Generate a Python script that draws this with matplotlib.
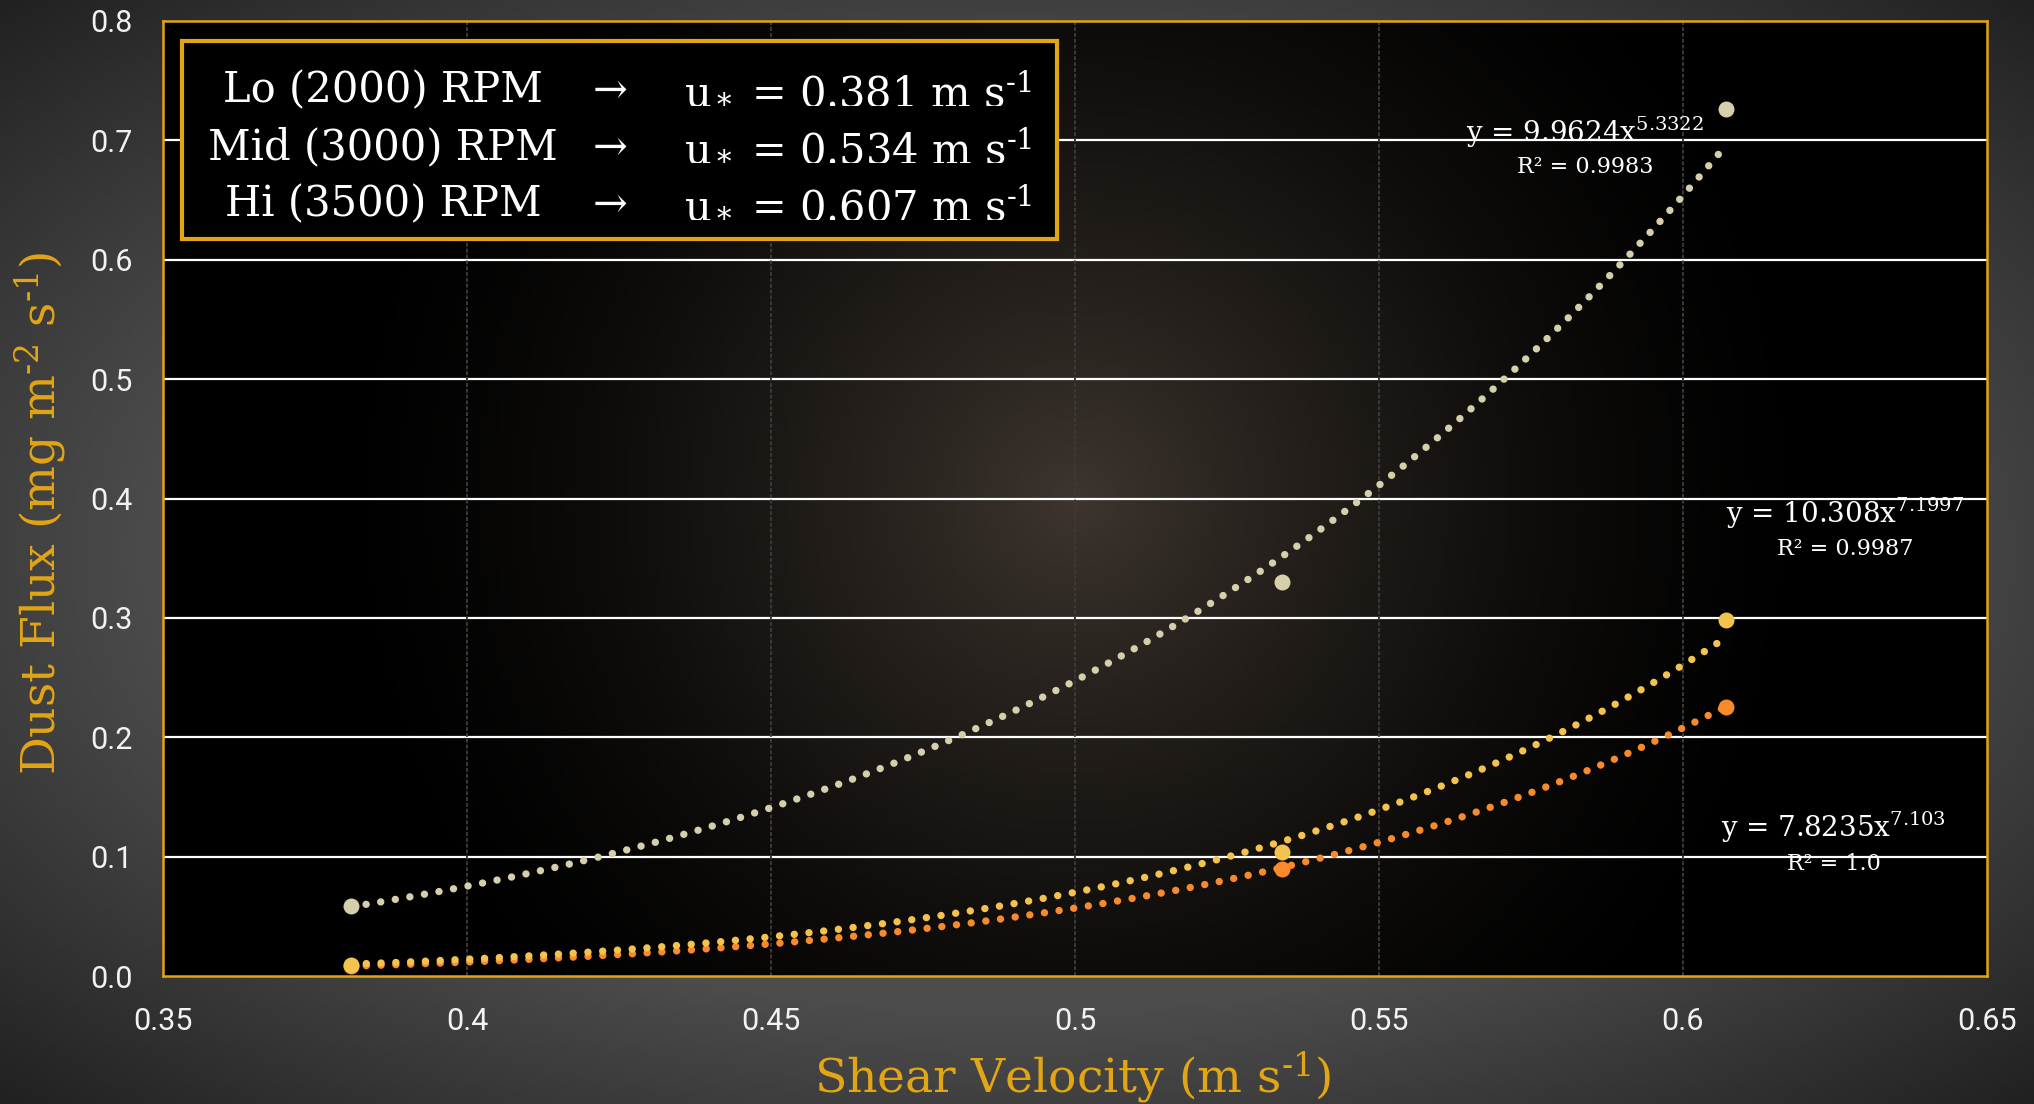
import numpy as np
import matplotlib
matplotlib.use("Agg")
import matplotlib.pyplot as plt
from matplotlib.patches import Rectangle

plt.rcParams['mathtext.fontset'] = 'custom'
plt.rcParams['mathtext.rm'] = 'DejaVu Serif'
plt.rcParams['mathtext.it'] = 'DejaVu Serif:italic'
plt.rcParams['mathtext.bf'] = 'DejaVu Serif:bold'

# Velocidade de cisalhamento para cada rotação e fluxo de poeira medido
u_star = [0.381, 0.534, 0.607]
rpm_labels = ['Lo (2000) RPM', 'Mid (3000) RPM', 'Hi (3500) RPM']
flux_bege = [0.059, 0.330, 0.726]
flux_amarelo = [0.009, 0.104, 0.298]
flux_laranja = [0.008, 0.090, 0.225]

# Ajustes de potência y = a * x^b
ajustes = {
    'bege': (9.9624, 5.3322, '5.3322', '0.9983'),
    'amarelo': (10.308, 7.1997, '7.1997', '0.9987'),
    'laranja': (7.8235, 7.103, '7.103', '1.0'),
}

cores = {'bege': '#d5d0ab', 'amarelo': '#f4c34e', 'laranja': '#f98a2c'}
laranja_texto = '#e2a514'

W, H = 2034, 1104
fig = plt.figure(figsize=(W / 100, H / 100), dpi=100)

# fundo cinza com gradiente
bg = fig.add_axes([0, 0, 1, 1], zorder=-10)
gx, gy = np.meshgrid(np.linspace(-1, 1, 400), np.linspace(-1, 1, 220))
r = np.sqrt(gx ** 2 + gy ** 2)
v = np.clip(64 + (1 - r) * 75, 30, 76) / 255
bg.imshow(np.dstack([v, v, v]), extent=(0, 1, 0, 1), aspect='auto')
bg.axis('off')

x0, x1, y_top, y_bot = 163, 1987, 21, 976
ax = fig.add_axes([x0 / W, (H - y_bot) / H, (x1 - x0) / W, (y_bot - y_top) / H])
ax.set_facecolor('black')
ax.set_xlim(0.35, 0.65)
ax.set_ylim(0, 0.8)

# brilho marrom no centro da área do gráfico
ix, iy = np.meshgrid(np.linspace(-912, 912, 400), np.linspace(-478, 478, 220))
d = np.sqrt(ix ** 2 + iy ** 2)
k = np.clip(1 - d / 760, 0, 1) ** 1.5
glow = np.dstack([k * 0x3d / 255, k * 0x35 / 255, k * 0x2e / 255])
ax.imshow(glow, extent=(0.35, 0.65, 0, 0.8), aspect='auto', zorder=0)

for yv in np.arange(0.1, 0.75, 0.1):
    ax.axhline(yv, color='white', lw=1.6, zorder=1)
for xv in np.arange(0.4, 0.61, 0.05):
    ax.axvline(xv, color='#3a3a3a', lw=1.4, ls=(0, (2, 1)), zorder=1)

for s in ax.spines.values():
    s.set_color(laranja_texto)
    s.set_linewidth(1.8)

ax.set_xticks(np.arange(0.35, 0.651, 0.05))
ax.set_xticklabels(['0.35', '0.4', '0.45', '0.5', '0.55', '0.6', '0.65'])
ax.set_yticks(np.arange(0, 0.81, 0.1))
ax.set_yticklabels([f'{t:.1f}' for t in np.arange(0, 0.81, 0.1)])
ax.tick_params(length=0, pad=22, labelsize=22, labelcolor='#f2f2f2')
for lab in ax.get_xticklabels() + ax.get_yticklabels():
    lab.set_family('Roboto')

xs = np.linspace(u_star[0], u_star[-1], 300)
series = [('laranja', flux_laranja), ('amarelo', flux_amarelo), ('bege', flux_bege)]
for nome, ys in series:
    a, b, _, _ = ajustes[nome]
    ax.plot(xs, a * xs ** b, color=cores[nome], lw=5.3, ls=(0, (0.01, 2.0)),
            dash_capstyle='round', zorder=3)
    ax.plot(u_star, ys, 'o', color=cores[nome], ms=11.5, mec='none', zorder=4)

# equações das linhas de tendência
posicoes = {
    'bege': (0.5839, 0.6989, 0.6724),
    'amarelo': (0.6266, 0.3792, 0.3527),
    'laranja': (0.6248, 0.1167, 0.0888),
}
for nome, (px, py_eq, py_r) in posicoes.items():
    a, b, b_txt, r2 = ajustes[nome]
    ax.text(px, py_eq, f'y = {a}x$^{{{b_txt}}}$', color='white', fontsize=20,
            family='DejaVu Serif', ha='center', va='baseline', zorder=5)
    ax.text(px, py_r, f'R² = {r2}', color='white', fontsize=16,
            family='DejaVu Serif', ha='center', va='baseline', zorder=5)

# caixa com a correspondência RPM -> u*
caixa = Rectangle((182 / W, (H - 239) / H), 875 / W, 198 / H, transform=fig.transFigure,
                  facecolor='black', edgecolor=laranja_texto, lw=3, zorder=5)
fig.patches.append(caixa)
bases = [102.5, 159.6, 216.6]
for lab, u, yb in zip(rpm_labels, u_star, bases):
    yf = (H - yb) / H
    fig.text(383 / W, yf, lab, color='white', fontsize=30, family='DejaVu Serif',
             ha='center', va='baseline', zorder=6)
    fig.text(610 / W, yf, '→', color='white', fontsize=30, family='DejaVu Serif',
             ha='center', va='baseline', zorder=6)
    fig.text(684 / W, yf, f'u$_*$ = {u:.3f} m s$^{{\\text{{-}}1}}$', color='white',
             fontsize=30, family='DejaVu Serif', ha='left', va='baseline', zorder=6)

fig.text(1073 / W, 11 / H, r'Shear Velocity (m s$^{\text{-}1}$)', color=laranja_texto,
         fontsize=34, family='DejaVu Serif', ha='center', va='baseline')
fig.text(41 / W, (H - 513) / H, r'Dust Flux (mg m$^{\text{-}2}$ s$^{\text{-}1}$)',
         color=laranja_texto, fontsize=34, family='DejaVu Serif', rotation=90,
         ha='center', va='center')

fig.savefig('out.png', dpi=100)
